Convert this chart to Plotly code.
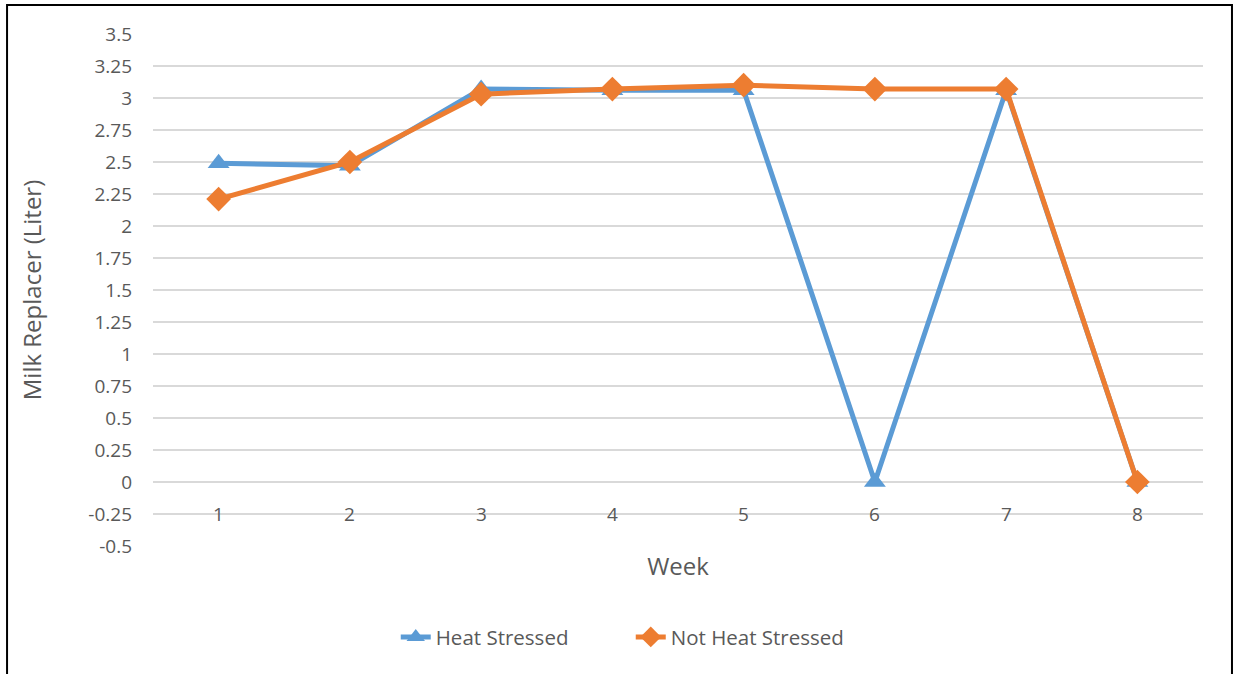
import plotly.graph_objects as go

# Dữ liệu
weeks = [1, 2, 3, 4, 5, 6, 7, 8]
heat_stressed = [2.49, 2.47, 3.07, 3.06, 3.06, 0, 3.06, 0]
not_heat_stressed = [2.21, 2.50, 3.03, 3.07, 3.10, 3.07, 3.07, 0]
y_ticks = [-0.5, -0.25, 0, 0.25, 0.5, 0.75, 1, 1.25, 1.5, 1.75, 2, 2.25, 2.5, 2.75, 3, 3.25, 3.5]
y_ticktext = ['-0.5', '-0.25', '0', '0.25', '0.5', '0.75', '1', '1.25', '1.5', '1.75',
              '2', '2.25', '2.5', '2.75', '3', '3.25', '3.5']

font_family = 'Open Sans, Liberation Sans, sans-serif'
grey = '#595959'

fig = go.Figure()

fig.add_trace(go.Scatter(
    x=weeks, y=heat_stressed,
    mode='lines+markers',
    name='Heat Stressed',
    line=dict(color='#5B9BD5', width=5),
    marker=dict(symbol='triangle-up', size=19, color='#5B9BD5'),
))

fig.add_trace(go.Scatter(
    x=weeks, y=not_heat_stressed,
    mode='lines+markers',
    name='Not Heat Stressed',
    line=dict(color='#ED7D31', width=5),
    marker=dict(symbol='diamond', size=19, color='#ED7D31'),
))

# Nhãn tuần nằm ngay dưới đường y = 0 (trục x cắt tại 0 như Excel)
annotations = []
for w in weeks:
    annotations.append(dict(
        x=w, y=0, xref='x', yref='y',
        text=str(w), showarrow=False,
        yshift=-32, yanchor='middle',
        font=dict(size=19, color=grey, family=font_family),
    ))
fig.update_layout(annotations=annotations)

# Khung viền quanh biểu đồ
fig.add_shape(type='rect', xref='paper', yref='paper',
              x0=-0.139, x1=1.0276, y0=-0.5, y1=1.0566,
              line=dict(color='black', width=2), layer='above')

fig.update_layout(
    width=1237, height=674,
    margin=dict(l=153, r=34, t=34, b=128),
    plot_bgcolor='white', paper_bgcolor='white',
    font=dict(family=font_family, color=grey),
    showlegend=True,
    legend=dict(orientation='h', x=0.455, xanchor='center', y=-0.178, yanchor='middle',
                font=dict(size=20.5, color=grey), tracegroupgap=0,
                entrywidth=190, entrywidthmode='pixels'),
)

fig.update_xaxes(
    range=[0.5, 8.5],
    showticklabels=False, showgrid=False, zeroline=False, showline=False,
    title=dict(text='Week', font=dict(size=24, color=grey), standoff=12),
)

fig.update_yaxes(
    range=[-0.5, 3.5],
    tickvals=y_ticks, ticktext=y_ticktext,
    tickfont=dict(size=19, color=grey),
    showgrid=True, gridcolor='#d9d9d9', gridwidth=1.5,
    zeroline=False, showline=False,
    ticklabelstandoff=20,
    title=dict(text='Milk Replacer (Liter)', font=dict(size=24, color=grey), standoff=39),
)

fig.write_html('out.html', config={'displayModeBar': False},
               post_script="document.body.style.margin='0';")
